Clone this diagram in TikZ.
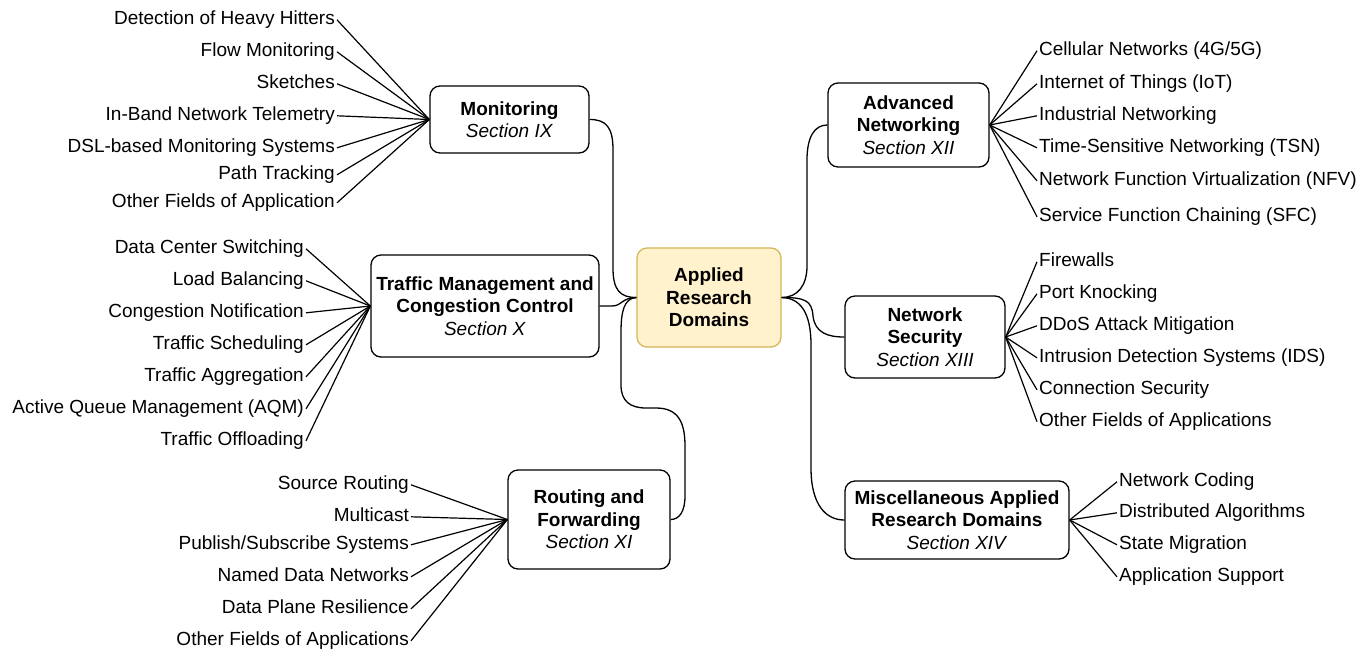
\documentclass[tikz,border=0pt]{standalone}
\usepackage{fontspec}
\setmainfont{Liberation Sans}
\definecolor{hubfill}{HTML}{FFF2CC}
\definecolor{hubdraw}{HTML}{D6B656}
\begin{document}
\begin{tikzpicture}[x=1pt,y=-1pt,
  every node/.style={font=\fontsize{19}{22.5}\selectfont},
  box/.style={draw=black, line width=1.3pt, rounded corners=10pt, align=center, inner sep=0pt},
  centerbox/.style={box, draw=hubdraw, fill=hubfill},
  leafL/.style={anchor=east, inner sep=2pt, text height=14pt, text depth=4pt},
  leafR/.style={anchor=west, inner sep=2pt, text height=14pt, text depth=4pt},
  link/.style={line width=1.2pt, line join=round},
  branch/.style={line width=1.3pt}]
\useasboundingbox (0,0) rectangle (1369,649);

% central node
\node[centerbox, minimum width=144pt, minimum height=99pt] (C) at (709,297.5)
  {\textbf{Applied}\\\textbf{Research}\\\textbf{Domains}};

% branch boxes
\node[box, minimum width=159pt, minimum height=67pt] (mon) at (509.5,119.5)
  {\textbf{Monitoring}\\\textit{Section IX}};
\node[box, minimum width=228pt, minimum height=102pt] (trf) at (485,306)
  {\textbf{Traffic Management and}\\\textbf{Congestion Control}\\\textit{Section X}};
\node[box, minimum width=162pt, minimum height=99pt] (rout) at (589,519.5)
  {\textbf{Routing and}\\\textbf{Forwarding}\\\textit{Section XI}};
\node[box, minimum width=161pt, minimum height=84pt] (adv) at (908.5,125)
  {\textbf{Advanced}\\\textbf{Networking}\\\textit{Section XII}};
\node[box, minimum width=160pt, minimum height=82pt] (sec) at (925,337)
  {\textbf{Network}\\\textbf{Security}\\\textit{Section XIII}};
\node[box, minimum width=224pt, minimum height=78pt] (misc) at (957,520)
  {\textbf{Miscellaneous Applied}\\\textbf{Research Domains}\\\textit{Section XIV}};

% branch connectors
\draw[branch] (mon.east) .. controls (606,119.5) and (613,127) .. (613,150)
  -- (613,268) .. controls (613,290) and (620,297.5) .. (C.west);
\draw[branch] (trf.east) -- (612,306) .. controls (622,306) and (622,297.5) .. (C.west);
\draw[branch] (C.west) .. controls (624,298) and (621,312) .. (621,332)
  -- (621,385) .. controls (621,401) and (630,408) .. (646,408)
  -- (656,408) .. controls (678,408) and (685,422) .. (685,446)
  -- (685,496) .. controls (685,512) and (679,519.5) .. (rout.east);
\draw[branch] (C.east) .. controls (798,297.5) and (807,285) .. (807,266)
  -- (807,160) .. controls (807,136) and (815,125) .. (adv.west);
\draw[branch] (C.east) .. controls (804,297.5) and (812,300) .. (813,316)
  .. controls (815,333) and (828,337) .. (sec.west);
\draw[branch] (C.east) .. controls (800,298) and (811,312) .. (811,345)
  -- (811,468) .. controls (811,505) and (826,520) .. (misc.west);

% Monitoring leaves
\node[leafL] (m1) at (337,19.8) {Detection of Heavy Hitters};
\node[leafL] (m2) at (337,51.8) {Flow Monitoring};
\node[leafL] (m3) at (337,83.8) {Sketches};
\node[leafL] (m4) at (337,115.8) {In-Band Network Telemetry};
\node[leafL] (m5) at (337,147.8) {DSL-based Monitoring Systems};
\node[leafL] (m6) at (337,174.8) {Path Tracking};
\node[leafL] (m7) at (337,202.8) {Other Fields of Application};
\foreach \i in {1,...,7} \draw[link] (m\i.east) -- (mon.west);

% Traffic leaves
\node[leafL] (t1) at (306,248.8) {Data Center Switching};
\node[leafL] (t2) at (306,280.8) {Load Balancing};
\node[leafL] (t3) at (306,312.8) {Congestion Notification};
\node[leafL] (t4) at (306,344.8) {Traffic Scheduling};
\node[leafL] (t5) at (306,376.8) {Traffic Aggregation};
\node[leafL] (t6) at (306,408.8) {Active Queue Management (AQM)};
\node[leafL] (t7) at (306,440.8) {Traffic Offloading};
\foreach \i in {1,...,7} \draw[link] (t\i.east) -- (trf.west);

% Routing leaves
\node[leafL] (r1) at (411,484.8) {Source Routing};
\node[leafL] (r2) at (411,516.8) {Multicast};
\node[leafL] (r3) at (411,544.8) {Publish/Subscribe Systems};
\node[leafL] (r4) at (411,576.8) {Named Data Networks};
\node[leafL] (r5) at (411,608.8) {Data Plane Resilience};
\node[leafL] (r6) at (411,640.8) {Other Fields of Applications};
\foreach \i in {1,...,6} \draw[link] (r\i.east) -- (rout.west);

% Advanced leaves
\node[leafR] (a1) at (1037,50.8) {Cellular Networks (4G/5G)};
\node[leafR] (a2) at (1037,83.8) {Internet of Things (IoT)};
\node[leafR] (a3) at (1037,115.8) {Industrial Networking};
\node[leafR] (a4) at (1037,147.8) {Time-Sensitive Networking (TSN)};
\node[leafR] (a5) at (1037,180.8) {Network Function Virtualization (NFV)};
\node[leafR] (a6) at (1037,216.8) {Service Function Chaining (SFC)};
\foreach \i in {1,...,6} \draw[link] (adv.east) -- (a\i.west);

% Security leaves
\node[leafR] (s1) at (1037,261.8) {Firewalls};
\node[leafR] (s2) at (1037,293.8) {Port Knocking};
\node[leafR] (s3) at (1037,325.8) {DDoS Attack Mitigation};
\node[leafR] (s4) at (1037,357.8) {Intrusion Detection Systems (IDS)};
\node[leafR] (s5) at (1037,389.8) {Connection Security};
\node[leafR] (s6) at (1037,421.8) {Other Fields of Applications};
\foreach \i in {1,...,6} \draw[link] (sec.east) -- (s\i.west);

% Misc leaves
\node[leafR] (x1) at (1117,481.8) {Network Coding};
\node[leafR] (x2) at (1117,512.8) {Distributed Algorithms};
\node[leafR] (x3) at (1117,544.8) {State Migration};
\node[leafR] (x4) at (1117,576.8) {Application Support};
\foreach \i in {1,...,4} \draw[link] (misc.east) -- (x\i.west);
\end{tikzpicture}
\end{document}
